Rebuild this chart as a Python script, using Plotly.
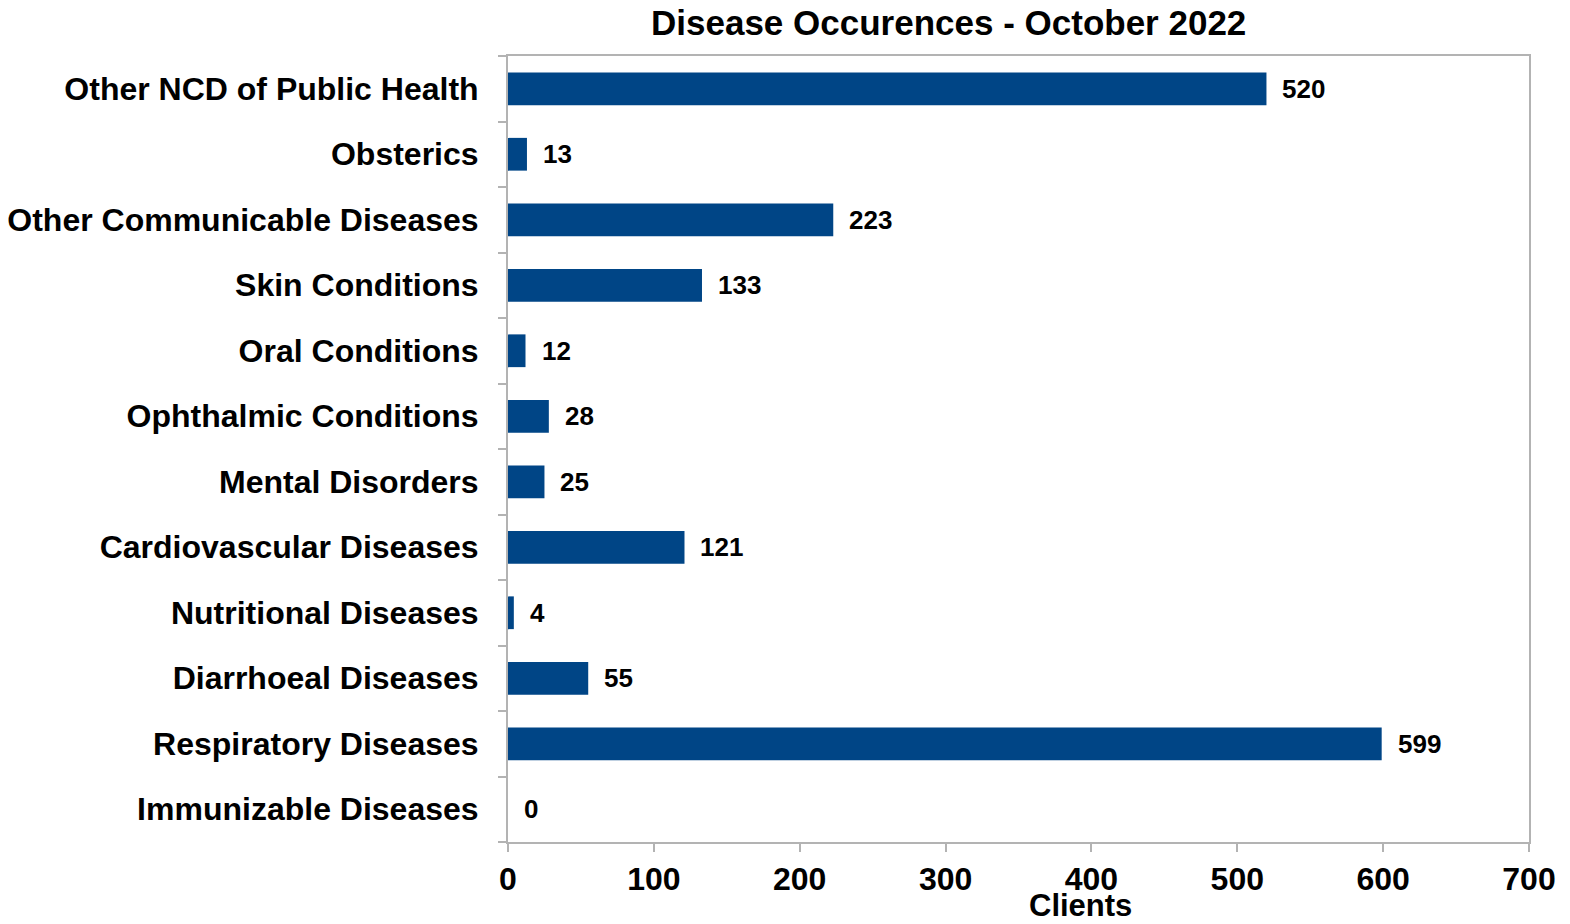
import plotly.graph_objects as go

categories = ["Immunizable Diseases", "Respiratory Diseases", "Diarrhoeal Diseases",
              "Nutritional Diseases", "Cardiovascular Diseases", "Mental Disorders",
              "Ophthalmic Conditions", "Oral Conditions", "Skin Conditions",
              "Other Communicable Diseases", "Obsterics", "Other NCD of Public Health"]
values = [0, 599, 55, 4, 121, 25, 28, 12, 133, 223, 13, 520]
x_ticks = [0, 100, 200, 300, 400, 500, 600, 700]

FONT = "Liberation Sans, Arial, sans-serif"
OX, OY = 6, 7  # observed page offset of the figure
W, H = 1554, 908
L, T = 506 - OX, 55 - OY
R = W - (1527 - OX)
B = H - (841 - OY)

fig = go.Figure(go.Bar(
    y=categories, x=values, orientation="h",
    marker=dict(color="#004586", line=dict(width=0)),
))

for c, v in zip(categories, values):
    fig.add_annotation(x=v, y=c, xref="x", yref="y", text=str(v), showarrow=False,
                       xanchor="left", xshift=14,
                       font=dict(family=FONT, size=26, color="black", weight="bold"))

plot_w = W - L - R
plot_h = H - T - B
fig.add_annotation(x=(946 - 506) / plot_w, y=1 + (55 - 21) / plot_h, xref="paper", yref="paper",
                   text="Disease Occurences - October 2022", showarrow=False,
                   xanchor="center", yanchor="middle",
                   font=dict(family=FONT, size=35, color="black", weight="bold"))
fig.add_annotation(x=(1078 - 506) / plot_w, y=-(904 - 841) / plot_h, xref="paper", yref="paper",
                   text="Clients", showarrow=False, xanchor="center", yanchor="middle",
                   font=dict(family=FONT, size=31, color="black", weight="bold"))

fig.update_layout(
    width=W, height=H,
    margin=dict(l=L, r=R, t=T, b=B, pad=0, autoexpand=False),
    paper_bgcolor="white", plot_bgcolor="white",
    bargap=0.5, showlegend=False,
    font=dict(family=FONT, color="black"),
)
fig.update_xaxes(range=[0, 700], tickvals=x_ticks, ticktext=[str(t) for t in x_ticks],
                 automargin=False, showgrid=False, zeroline=False,
                 showline=True, linecolor="#b3b3b3", linewidth=2, mirror=True,
                 ticks="outside", ticklen=8, tickcolor="#b3b3b3", tickwidth=2,
                 tickfont=dict(family=FONT, size=32, color="black", weight="bold"))
fig.update_yaxes(categoryorder="array", categoryarray=categories,
                 automargin=False, showgrid=False, zeroline=False,
                 showline=True, linecolor="#b3b3b3", linewidth=2, mirror=True,
                 ticks="outside", ticklen=8, tickcolor="#b3b3b3", tickwidth=2,
                 tickson="boundaries", ticklabelstandoff=21,
                 tickfont=dict(family=FONT, size=32, color="black", weight="bold"))

fig.write_html("out.html")
